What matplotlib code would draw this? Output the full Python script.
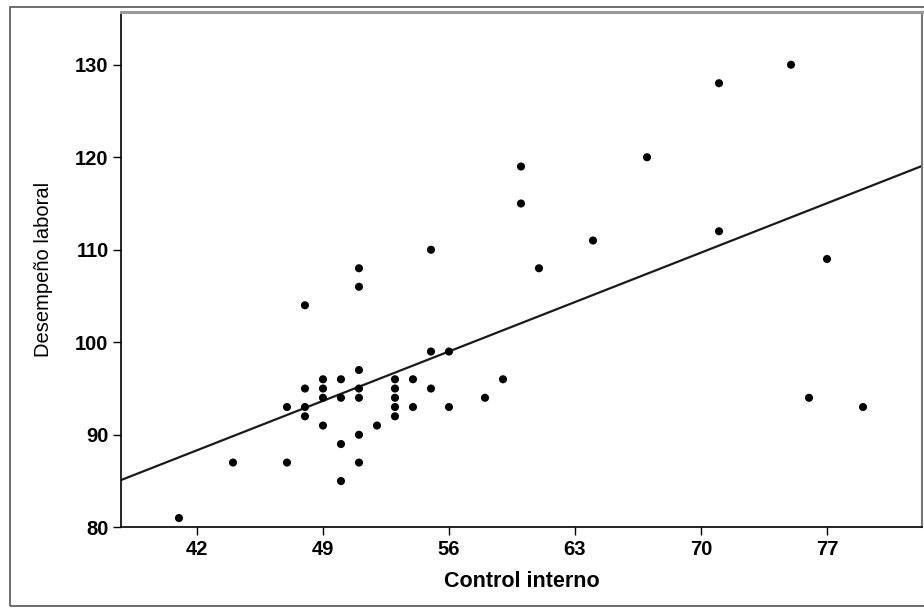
import matplotlib
matplotlib.use("Agg")
import matplotlib.pyplot as plt
from matplotlib import font_manager
from matplotlib.patches import Rectangle

# data
control_interno = [41, 44, 47, 47, 48, 48, 48, 48, 49, 49, 49, 49,
                   50, 50, 50, 50, 51, 51, 51, 51, 51, 51, 51, 52,
                   53, 53, 53, 53, 53, 54, 54, 55, 55, 55, 56, 56,
                   58, 59, 60, 60, 61, 64, 67, 71, 71, 75, 76, 77, 79]
desempeno = [81, 87, 87, 93, 92, 93, 95, 104, 91, 94, 95, 96,
             85, 89, 94, 96, 87, 90, 94, 95, 97, 106, 108, 91,
             92, 93, 94, 95, 96, 93, 96, 95, 99, 110, 93, 99,
             94, 96, 115, 119, 108, 111, 120, 112, 128, 130, 94, 109, 93]
control_interno = control_interno[:len(desempeno)]

# fit line as drawn (intercept, slope)
fit_intercept = 56.28
fit_slope = 0.763

x_ticks = [42, 49, 56, 63, 70, 77]
y_ticks = [80, 90, 100, 110, 120, 130]
x_range = (37.78, 82.26)
y_range = (80, 135.7)

names = {f.name for f in font_manager.fontManager.ttflist}
base_font = "Liberation Sans" if "Liberation Sans" in names else "DejaVu Sans"
narrow_font = "Liberation Sans Narrow" if "Liberation Sans Narrow" in names else base_font
plt.rcParams["font.family"] = [base_font]

fig = plt.figure(figsize=(9.24, 6.08), dpi=100)
ax = fig.add_axes([121 / 924, 1 - 527.3 / 608, (921.7 - 121) / 924, (527.3 - 12) / 608])

# outer frame like the SPSS chart border
fig.patches.append(Rectangle((10 / 924, 1 - 606 / 608), 1.2, (606 - 7) / 608,
                             transform=fig.transFigure, fill=False,
                             edgecolor="#555555", linewidth=1.2))

ax.scatter(control_interno, desempeno, s=34, color="black", edgecolors="none", zorder=3)

ax.plot(list(x_range), [fit_intercept + fit_slope * v for v in x_range],
        color="#1a1a1a", linewidth=1.6, zorder=2)

ax.set_xlim(*x_range)
ax.set_ylim(*y_range)
ax.set_xticks(x_ticks)
ax.set_yticks(y_ticks)
ax.tick_params(direction="out", length=6, width=1, labelsize=14.5, pad=3)
for lbl in ax.get_xticklabels() + ax.get_yticklabels():
    lbl.set_fontweight("bold")

for side in ["left", "bottom"]:
    ax.spines[side].set_color("black")
    ax.spines[side].set_linewidth(1.2)
ax.spines["top"].set_color("#999999")
ax.spines["top"].set_linewidth(2.2)
ax.spines["right"].set_color("#777777")
ax.spines["right"].set_linewidth(1.5)

ax.set_xlabel("Control interno", fontsize=15.5, fontweight="bold", labelpad=9)
ax.set_ylabel("Desempeño laboral", fontsize=14.5, family=narrow_font, labelpad=16)

fig.savefig("out.png", dpi=100)
